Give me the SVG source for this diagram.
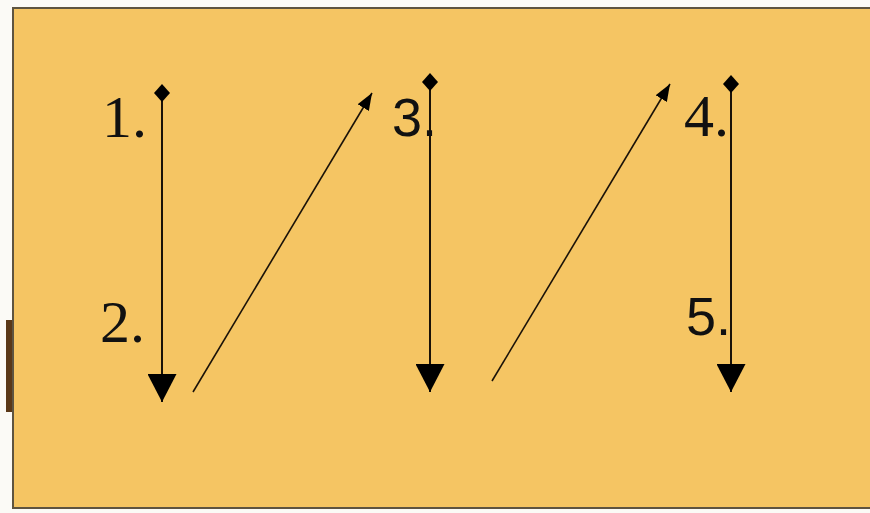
<svg xmlns="http://www.w3.org/2000/svg" width="870" height="513" viewBox="0 0 870 513">
  <style>
    .num { font-family: "Liberation Serif", "Times New Roman", serif; font-size: 60px; fill: #111; }
    .sans { font-family: "Liberation Sans", Arial, sans-serif; font-size: 54px; fill: #111; }
    .vline { stroke: #1a1208; stroke-width: 2; fill: none; }
    .dline { stroke: #1a1208; stroke-width: 1.6; fill: none; }
  </style>
  <defs>
    <marker id="diamond" markerUnits="userSpaceOnUse" viewBox="0 0 18 18" markerWidth="18" markerHeight="18" refX="9" refY="9" orient="auto">
      <path d="M0,9 L9,1 L18,9 L9,17 z" fill="#000"/>
    </marker>
    <marker id="bigTri" markerUnits="userSpaceOnUse" viewBox="0 0 28 29" markerWidth="28" markerHeight="29" refX="28" refY="14.5" orient="auto">
      <path d="M0,0 L28,14.5 L0,29 z" fill="#000"/>
    </marker>
    <marker id="smallTri" markerUnits="userSpaceOnUse" viewBox="0 0 17 13" markerWidth="17" markerHeight="13" refX="17" refY="6.5" orient="auto">
      <path d="M0,0 L17,6.5 L0,13 z" fill="#000"/>
    </marker>
  </defs>

  <rect x="0" y="0" width="870" height="513" fill="#fbfaf6"/>
  <rect x="6" y="320" width="7" height="92" fill="#5a3818"/>
  <rect x="13" y="8" width="870" height="500" fill="#F5C563" stroke="#5e5440" stroke-width="2"/>

  <g id="connectors">
    <line class="vline" x1="162" y1="93" x2="162" y2="402" marker-start="url(#diamond)" marker-end="url(#bigTri)"/>
    <line class="dline" x1="193" y1="392" x2="372" y2="93" marker-end="url(#smallTri)"/>
    <line class="vline" x1="430" y1="82" x2="430" y2="392" marker-start="url(#diamond)" marker-end="url(#bigTri)"/>
    <line class="dline" x1="492" y1="381" x2="670" y2="84" marker-end="url(#smallTri)"/>
    <line class="vline" x1="731" y1="84" x2="731" y2="392" marker-start="url(#diamond)" marker-end="url(#bigTri)"/>
  </g>

  <g id="label-1"><text class="num" x="102" y="137">1.</text></g>
  <g id="label-2"><text class="num" x="100" y="342">2.</text></g>
  <g id="label-3"><text class="sans" x="392" y="136">3.</text></g>
  <g id="label-4"><text class="num" x="684" y="136">4.</text></g>
  <g id="label-5"><text class="sans" x="686" y="335">5.</text></g>
</svg>
